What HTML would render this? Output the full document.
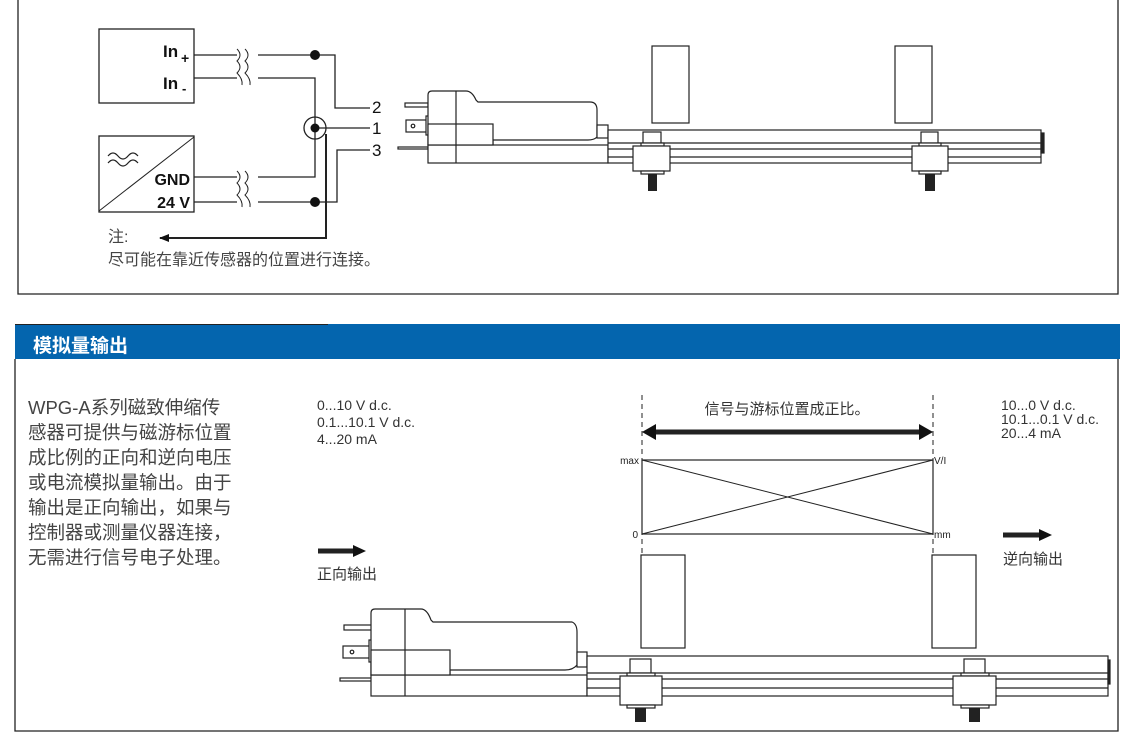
<!DOCTYPE html>
<html><head><meta charset="utf-8"><style>
html,body{margin:0;padding:0;background:#fff;}
svg{display:block;}
text{font-family:"Liberation Sans","Noto Sans CJK SC",sans-serif;}
</style></head><body>
<svg width="1131" height="739" viewBox="0 0 1131 739" xmlns="http://www.w3.org/2000/svg">
<defs>
<marker id="ah" markerWidth="10" markerHeight="8" refX="9" refY="4" orient="auto" markerUnits="userSpaceOnUse"><path d="M0,0 L10,4 L0,8 z" fill="#111"/></marker>
</defs>
<!-- top frame -->
<path d="M18,-2 V294 H1118 V-2" fill="none" stroke="#222" stroke-width="1.3"/>
<g fill="none" stroke="#222" stroke-width="1.3">
<rect x="99" y="29" width="95" height="74"/>
<rect x="99" y="136" width="95" height="76"/>
<line x1="99" y1="211" x2="194" y2="137" stroke-width="1"/>
<!-- lines -->
<path d="M194,55 H237 M258,55 H335 V108 H370"/>
<path d="M194,78 H237 M258,78 H315 V177 H258 M237,177 H194"/>
<path d="M194,202 H237 M258,202 H337 V150 H370"/>
<path d="M315,128 H370"/>
<circle cx="315" cy="128" r="11"/>
<path d="M237,49 q6,6 0,12 q6,6 0,12 q6,6 5,12 M245,49 q6,6 0,12 q6,6 0,12 q6,6 5,12" stroke-width="1"/>
<path d="M237,171 q6,6 0,12 q6,6 0,12 q6,6 5,12 M245,171 q6,6 0,12 q6,6 0,12 q6,6 5,12" stroke-width="1"/>
<path d="M326,134 V238 H160" stroke-width="2" marker-end="url(#ah)"/>
<path d="M108,156 q5,-6 10,0 t10,0 t10,0 M108,163 q5,-6 10,0 t10,0 t10,0" stroke-width="1.2"/>
</g>
<g fill="#111"><circle cx="315" cy="55" r="5"/><circle cx="315" cy="128" r="4.5"/><circle cx="315" cy="202" r="5"/></g>
<g font-weight="bold" font-size="17" fill="#111">
<text x="163" y="57">In</text><text x="181" y="63" font-size="14">+</text>
<text x="163" y="89">In</text><text x="182" y="93" font-size="13">-</text>
<text x="190" y="185" text-anchor="end" font-size="16">GND</text>
<text x="190" y="208" text-anchor="end" font-size="16">24 V</text>
</g>
<g font-size="17" fill="#111"><text x="372" y="113">2</text><text x="372" y="134">1</text><text x="372" y="156">3</text></g>
<g font-size="16" fill="#444"><text x="108" y="242">注:</text><text x="108" y="265">尽可能在靠近传感器的位置进行连接。</text></g>

<!-- top sensor -->
<g fill="#fff" stroke="#222" stroke-width="1.2">
<rect x="652" y="46" width="37" height="77"/><rect x="895" y="46" width="37" height="77"/>
<rect x="405" y="103" width="23" height="4"/><rect x="406" y="120" width="22" height="12"/><rect x="398" y="147" width="30" height="2"/>
<rect x="426" y="116" width="4" height="19"/>
<path d="M432,91 H466 Q472,91 476,100 L478,102 H590 Q597,102 597,110 V137 Q594,140 588,140 H493 V145 H428 V95 Q428,91 432,91 Z"/>
<rect x="428" y="145" width="180" height="18"/>
<rect x="428" y="124" width="65" height="21"/>
<line x1="456" y1="91" x2="456" y2="163"/>
<rect x="597" y="125" width="11" height="13"/>
<rect x="608" y="130" width="433" height="33"/>
<line x1="608" y1="143" x2="1041" y2="143"/><line x1="608" y1="149" x2="1041" y2="149"/><line x1="608" y1="157" x2="1041" y2="157"/>
<rect x="1041" y="133" width="3" height="20" fill="#222"/>
<rect x="643" y="132" width="18" height="11"/><rect x="641" y="143" width="23" height="3"/><rect x="633" y="146" width="37" height="25"/><rect x="641" y="171" width="23" height="3"/>
<rect x="921" y="132" width="17" height="11"/><rect x="919" y="143" width="22" height="3"/><rect x="912" y="146" width="36" height="25"/><rect x="919" y="171" width="22" height="3"/>
<circle cx="413" cy="126" r="1.8"/>
</g>
<rect x="648" y="174" width="9" height="17" fill="#222"/><rect x="925" y="174" width="10" height="17" fill="#222"/>

<!-- bottom section -->
<path d="M15,359 V731 H1118 V359" fill="none" stroke="#222" stroke-width="1.3"/>
<rect x="15" y="324" width="1105" height="35" fill="#0465ae"/>
<line x1="15" y1="324.5" x2="328" y2="324.5" stroke="#222" stroke-width="1"/>
<text x="33" y="352" font-size="19" font-weight="bold" fill="#fff">模拟量输出</text>
<g font-size="18.5" fill="#444">
<text x="28" y="414">WPG-A系列磁致伸缩传</text>
<text x="28" y="439">感器可提供与磁游标位置</text>
<text x="28" y="464">成比例的正向和逆向电压</text>
<text x="28" y="489">或电流模拟量输出。由于</text>
<text x="28" y="514">输出是正向输出，如果与</text>
<text x="28" y="539">控制器或测量仪器连接，</text>
<text x="28" y="564">无需进行信号电子处理。</text>
</g>
<g font-size="14" fill="#333">
<text x="317" y="410">0...10 V d.c.</text><text x="317" y="427">0.1...10.1 V d.c.</text><text x="317" y="444">4...20 mA</text>
<text x="1001" y="410">10...0 V d.c.</text><text x="1001" y="424">10.1...0.1 V d.c.</text><text x="1001" y="438">20...4 mA</text>
<text x="787" y="414" text-anchor="middle" font-size="15">信号与游标位置成正比。</text>
<text x="317" y="579" font-size="15">正向输出</text><text x="1003" y="564" font-size="15">逆向输出</text>
</g>
<g font-size="10" fill="#222"><text x="639" y="464" text-anchor="end">max</text><text x="638" y="538" text-anchor="end">0</text><text x="934" y="464">V/I</text><text x="934" y="538">mm</text></g>
<g stroke="#222" fill="none">
<line x1="642" y1="395" x2="642" y2="553" stroke-dasharray="5,4" stroke-width="1"/>
<line x1="933" y1="395" x2="933" y2="553" stroke-dasharray="5,4" stroke-width="1"/>
<rect x="642" y="460" width="291" height="74" stroke-width="1.2"/>
<line x1="642" y1="460" x2="933" y2="534"/><line x1="642" y1="534" x2="933" y2="460"/>
<line x1="652" y1="432" x2="923" y2="432" stroke-width="5"/>
<line x1="318" y1="551" x2="355" y2="551" stroke-width="5"/>
<line x1="1003" y1="535" x2="1041" y2="535" stroke-width="5"/>
</g>
<g fill="#111">
<path d="M642,432 L656,424 L656,440 Z"/><path d="M933,432 L919,424 L919,440 Z"/>
<path d="M366,551 L353,545 L353,557 Z"/><path d="M1052,535 L1039,529 L1039,541 Z"/>
</g>

<!-- bottom sensor -->
<g fill="#fff" stroke="#222" stroke-width="1.2">
<rect x="641" y="555" width="44" height="93"/><rect x="932" y="555" width="44" height="93"/>
<rect x="344" y="625" width="28" height="5"/><rect x="343" y="646" width="29" height="12"/><rect x="340" y="678" width="32" height="3"/>
<rect x="369" y="640" width="4" height="22"/>
<path d="M375,609 H421 Q427,609 431,620 L433,622 H572 Q577,624 577,632 V665 Q573,670 565,670 H450 V675 H371 V613 Q371,609 375,609 Z"/>
<rect x="371" y="675" width="216" height="21"/>
<rect x="371" y="650" width="79" height="25"/>
<line x1="405" y1="609" x2="405" y2="696"/>
<rect x="577" y="652" width="10" height="15"/>
<rect x="587" y="656" width="521" height="40"/>
<line x1="587" y1="673" x2="1108" y2="673"/><line x1="587" y1="679" x2="1108" y2="679"/><line x1="587" y1="688" x2="1108" y2="688"/>
<rect x="1108" y="660" width="2" height="24" fill="#222"/>
<rect x="630" y="659" width="21" height="14"/><rect x="627" y="673" width="28" height="3"/><rect x="620" y="676" width="42" height="29"/><rect x="627" y="705" width="28" height="3"/>
<rect x="964" y="659" width="21" height="14"/><rect x="961" y="673" width="28" height="3"/><rect x="953" y="676" width="43" height="29"/><rect x="961" y="705" width="28" height="3"/>
<circle cx="352" cy="652" r="1.8"/>
</g>
<rect x="635" y="708" width="11" height="14" fill="#222"/><rect x="969" y="708" width="11" height="14" fill="#222"/>
</svg>
</body></html>
